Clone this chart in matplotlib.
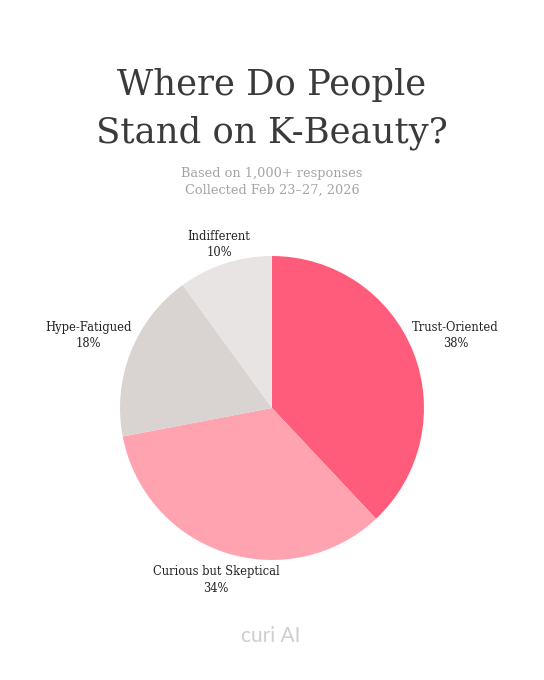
import numpy as np
from matplotlib import pyplot as plt

labels = ["Trust-Oriented", "Curious but Skeptical", "Hype-Fatigued", "Indifferent"]
shares = [38, 34, 18, 10]
colors = ["#FF5C7C", "#FFA3B1", "#D9D3D1", "#E8E4E3"]
label_dist = [1.30, 1.19, 1.30, 1.13]

title_lines = ["Where Do People", "Stand on K-Beauty?"]
subtitle = "Based on 1,000+ responses\nCollected Feb 23\u201327, 2026"

fig = plt.figure(figsize=(5.44, 6.8), dpi=100)
fig.patch.set_facecolor("white")

for line, base in zip(title_lines, [95, 143]):
    fig.text(0.5, 1 - base / 680, line, ha="center", va="baseline", fontsize=25.5,
             family="DejaVu Serif", color="#3a3a3a")
fig.text(0.5, 1 - 182 / 680, subtitle, ha="center", va="center", fontsize=9.3,
         family="DejaVu Serif", color="#a4a4a4", linespacing=1.35)

ax = fig.add_axes([0.5 - 0.2794, 0.4 - 0.2235, 0.5588, 0.447])
wedges, _ = ax.pie(shares, colors=colors, startangle=90, counterclock=False,
                   wedgeprops=dict(linewidth=0))
ax.set_aspect("equal")
ax.set_xlim(-1, 1)
ax.set_ylim(-1, 1)

for w, lab, s, d in zip(wedges, labels, shares, label_dist):
    mid = np.deg2rad((w.theta1 + w.theta2) / 2)
    ax.text(d * np.cos(mid), d * np.sin(mid), f"{lab}\n{s}%", ha="center", va="center",
            fontsize=8.3, family="DejaVu Serif", color="#222222", linespacing=1.35,
            clip_on=False)

fig.text(0.4985, 1 - 636 / 680, "curi AI", ha="center", va="center", fontsize=15,
         family="Lato", color="#cfcfcf")

fig.savefig("out.png", dpi=100, facecolor="white")
